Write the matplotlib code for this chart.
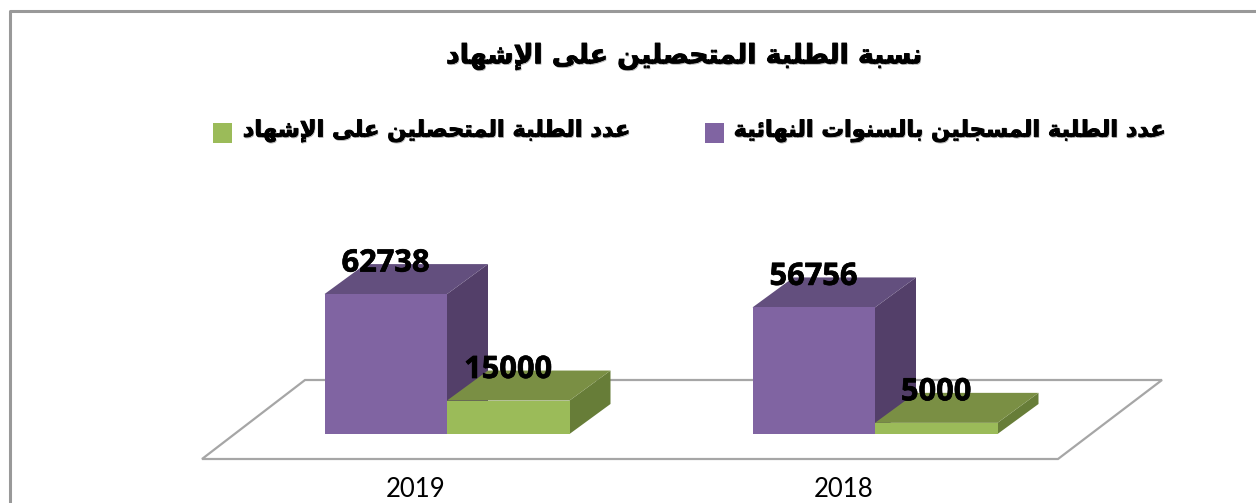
import matplotlib
matplotlib.use("Agg")
import matplotlib.pyplot as plt
import matplotlib.patheffects as pe
from matplotlib.patches import Rectangle, Polygon
from matplotlib.lines import Line2D

# ---------- data ----------
TITLE = "نسبة الطلبة المتحصلين على الإشهاد"
SERIES_NAMES = ["عدد الطلبة المسجلين بالسنوات النهائية", "عدد الطلبة المتحصلين على الإشهاد"]
YEARS = ["2019", "2018"]
REGISTERED = [62738, 56756]
GRADUATED = [15000, 5000]

# ---------- Arabic shaping (matplotlib does no shaping or bidi) ----------
FORMS = {  # isolated, final, initial, medial
    'ا': 'ﺍﺎ', 'إ': 'ﺇﺈ', 'د': 'ﺩﺪ', 'و': 'ﻭﻮ', 'ة': 'ﺓﺔ', 'ى': 'ﻯﻰ',
    'ب': 'ﺏﺐﺑﺒ', 'ت': 'ﺕﺖﺗﺘ', 'ج': 'ﺝﺞﺟﺠ', 'ح': 'ﺡﺢﺣﺤ', 'س': 'ﺱﺲﺳﺴ',
    'ش': 'ﺵﺶﺷﺸ', 'ص': 'ﺹﺺﺻﺼ', 'ط': 'ﻁﻂﻃﻄ', 'ع': 'ﻉﻊﻋﻌ', 'ل': 'ﻝﻞﻟﻠ',
    'م': 'ﻡﻢﻣﻤ', 'ن': 'ﻥﻦﻧﻨ', 'ه': 'ﻩﻪﻫﻬ', 'ي': 'ﻱﻲﻳﻴ', 'ئ': 'ﺉﺊﺋﺌ',
}
LIG = {'ا': 'ﻻﻼ', 'إ': 'ﻹﻺ'}


def shape(text):
    chars = list(text)
    out = []
    i = 0
    while i < len(chars):
        c = chars[i]
        if c not in FORMS:
            out.append(c)
            i += 1
            continue
        prev = chars[i - 1] if i else ' '
        joins_prev = prev in FORMS and len(FORMS[prev]) == 4
        if c == 'ل' and i + 1 < len(chars) and chars[i + 1] in LIG:
            out.append(LIG[chars[i + 1]][1 if joins_prev else 0])
            i += 2
            continue
        nxt = chars[i + 1] if i + 1 < len(chars) else ' '
        joins_next = len(FORMS[c]) == 4 and nxt in FORMS
        f = FORMS[c]
        if joins_prev and joins_next:
            out.append(f[3])
        elif joins_prev:
            out.append(f[1])
        elif joins_next:
            out.append(f[2])
        else:
            out.append(f[0])
        i += 1
    return ''.join(reversed(out))


# ---------- figure and scales ----------
W, H = 1256, 503
fig = plt.figure(figsize=(W / 100, H / 100), dpi=100)
ax = fig.add_axes([0, 0, 1, 1])
ax.axis("off")

PX_PER_VALUE = 0.00223
PX_PER_CAT = 428
X0, Y0 = 447, 434          # pixel position of category 0 centre at value 0
ax.set_xlim(-X0 / PX_PER_CAT, (W - X0) / PX_PER_CAT)
ax.set_ylim(-(H - Y0) / PX_PER_VALUE, Y0 / PX_PER_VALUE)


def dx(px):
    return px / PX_PER_CAT


def dy(px):
    return px / PX_PER_VALUE


def px(x, y):
    """top-left pixel position -> data coordinates (frame and floor only)"""
    return (x - X0) / PX_PER_CAT, (Y0 - y) / PX_PER_VALUE


BAR_W = dx(122.5)
DEPTH_X, DEPTH_Y = dx(41), dy(30)
HEAVY_NUM = [pe.withStroke(linewidth=0.5, foreground="black")]
HEAVY_SHADOW = [pe.SimpleLineShadow(offset=(0.5, -0.7), shadow_color="#a8a8a8", alpha=1, linewidth=0.5),
                pe.withStroke(linewidth=0.7, foreground="black")]

# frame
ax.add_line(Line2D(*zip(px(10, H), px(10, 11), px(W, 11)), color="#999999", lw=2.2, zorder=1))

# floor
floor = [px(202, 459), px(305, 380), px(1162, 380), px(1058, 459)]
ax.add_patch(Polygon(floor, closed=True, fc="white", ec="#a6a6a6", lw=1.6, zorder=2))


def box(x_left, value, front, top, side, z):
    x_right = x_left + BAR_W
    ax.add_patch(Polygon([(x_right, 0), (x_right + DEPTH_X, DEPTH_Y),
                          (x_right + DEPTH_X, value + DEPTH_Y), (x_right, value)],
                         closed=True, fc=side, ec="none", zorder=z))
    ax.add_patch(Polygon([(x_left, value), (x_left + DEPTH_X, value + DEPTH_Y),
                          (x_right + DEPTH_X, value + DEPTH_Y), (x_right, value)],
                         closed=True, fc=top, ec="none", zorder=z))
    ax.add_patch(Rectangle((x_left, 0), BAR_W, value, fc=front, ec="none", zorder=z + 0.1))
    ax.annotate(str(value), (x_left + BAR_W / 2, value), xytext=(0, 22),
                textcoords="offset points", ha="center", va="center",
                family="Open Sans", weight="bold", fontsize=22.2, color="black", zorder=10,
                path_effects=HEAVY_NUM)


for i, year in enumerate(YEARS):
    box(i - BAR_W, REGISTERED[i], "#8064A2", "#634F7E", "#533F69", 3)
    box(i, GRADUATED[i], "#9BBB59", "#7A8F44", "#677D38", 4)
    ax.text(i - dx(31), -dy(63), year, ha="center", va="baseline",
            family="Lato", fontsize=18.5, color="black")

# title and legend
tx, ty = px(684, 56)
ax.text(tx, ty, shape(TITLE), ha="center", va="center", family="DejaVu Sans",
        weight="bold", fontsize=19.2, color="black", path_effects=HEAVY_SHADOW)
for (x0, x1), (sx0, sx1), name, color in zip(
        [(733, 1165), (240, 632)], [(705, 724), (213, 232)], SERIES_NAMES, ["#8064A2", "#9BBB59"]):
    lx, ly = px((x0 + x1) / 2, 131)
    ax.text(lx, ly, shape(name), ha="center", va="center", family="DejaVu Sans",
            weight="bold", fontsize=16.2, color="black", path_effects=HEAVY_SHADOW)
    a = px(sx0, 143)
    ax.add_patch(Rectangle(a, dx(sx1 - sx0), dy(20), fc=color, ec="none"))

fig.savefig("out.png", dpi=100)
